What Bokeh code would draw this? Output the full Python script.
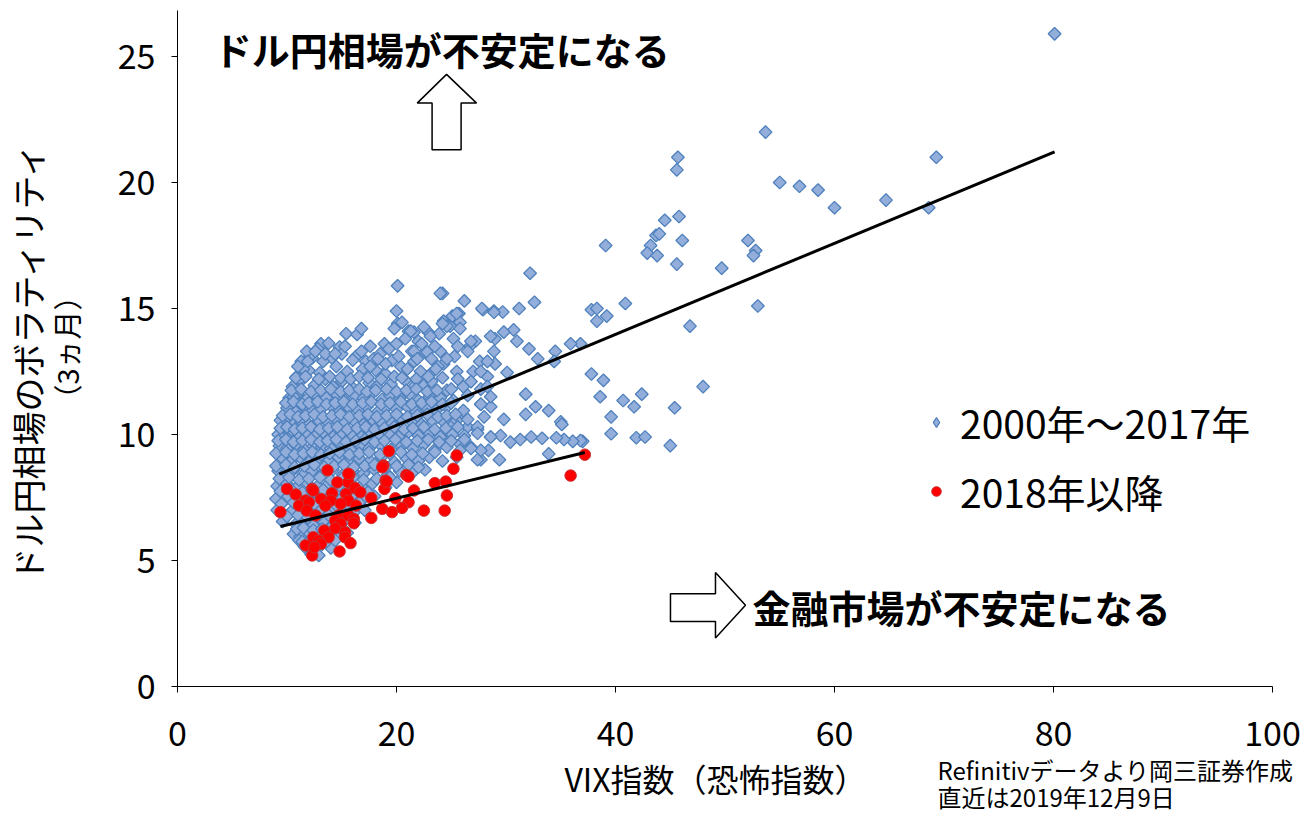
import numpy as np
from bokeh.plotting import figure
from bokeh.models import (Range1d, FixedTicker, Label, Legend, LegendItem, PolyAnnotation)
from bokeh.embed import file_html
from bokeh.resources import INLINE

FONT = "Noto Sans CJK JP"

# ---- data: 2000-2017 (VIX, USDJPY 3M implied vol) ----
blue_x = [80.1, 53.7, 45.7, 45.6, 69.3, 55.0, 56.8, 58.5, 60.0, 64.7, 68.6, 39.1, 44.5, 45.8,
          43.7, 44.0, 43.2, 42.9, 43.8, 46.1, 45.6, 52.1, 52.8, 52.6, 49.7, 40.9, 37.8, 38.3,
          39.2, 38.3, 53.0, 46.8, 36.8, 37.8, 38.9, 38.6, 40.7, 42.4, 41.7, 48.0, 45.4, 39.6,
          39.6, 41.9, 42.7, 45.0, 37.0,
          32.2, 26.2, 32.6, 24.2, 27.9, 28.9, 29.7, 31.2, 25.7, 34.5, 32.9, 32.1, 31.8, 32.7,
          33.9, 35.0, 35.1, 36.8, 36.1, 35.3, 34.6, 33.9, 33.3, 32.3, 31.3, 30.4, 29.4, 27.7,
          28.4, 29.8, 28.6, 27.7, 31.8, 27.6, 29.0, 30.1, 31.0, 30.7, 29.8, 29.0, 27.2, 26.7,
          25.8, 24.9, 24.3, 27.0, 26.1, 28.3, 27.7, 25.2, 25.8, 24.9, 26.5, 27.4, 24.6, 25.8,
          26.8, 28.6, 29.5, 35.9, 34.4,
          20.1, 24.0, 20.0, 20.1, 20.5, 21.1, 21.6, 22.0, 22.9, 23.9, 24.6, 25.1, 15.4, 16.4,
          16.8, 13.1, 13.8, 14.8, 16.3, 11.3, 12.3, 14.1, 17.2, 17.9, 19.6, 21.4, 22.6, 10.9,
          12.0,
          25.5, 27.8, 28.9, 21.3, 22.5, 24.2, 25.8, 23.1, 25.2, 26.8, 28.6, 21.6, 22.8, 24.0,
          26.5, 21.6, 24.3, 25.5, 27.7, 28.3, 28.9, 18.8, 20.4, 23.1, 26.8, 28.3, 24.6, 21.6,
          19.5, 27.7, 28.6, 26.1, 28.0, 25.5, 27.4, 28.6, 27.7, 25.8, 27.4,
          11.5, 13.0, 14.5, 15.5, 16.9, 18.1, 19.0, 21.0, 22.2, 23.8,
          10.5, 11.2, 12.5, 13.5, 14.2, 15.0, 16.0, 17.5, 18.2, 20.8, 22.5, 23.2,
          10.2, 11.0, 11.8, 12.7, 13.6, 14.5, 15.3, 16.2, 17.0, 17.8, 18.7, 19.4, 20.3, 21.2,
          22.0, 23.0, 24.0, 26.5,
          10.0, 10.8, 11.5, 12.3, 13.1, 14.0, 14.8, 15.7, 16.5, 17.3, 18.3, 19.0, 20.0, 21.0,
          21.8, 22.8, 23.6, 24.6,
          9.8, 10.5, 11.3, 12.0, 12.9, 13.7, 14.5, 15.2, 16.1, 17.0, 17.8, 18.6, 19.6, 20.5,
          21.4, 22.3, 23.3, 24.3, 26.5,
          9.5, 10.3, 11.0, 11.8, 12.6, 13.3, 14.2, 15.0, 15.9, 16.8, 17.6, 18.4, 19.3, 20.2,
          21.1, 22.0, 23.0, 24.0, 25.1, 26.2, 27.4,
          9.3, 10.0, 10.8, 11.6, 12.4, 13.2, 14.0, 14.9, 15.8, 16.7, 17.5, 18.5, 19.5, 20.5,
          21.5, 22.5, 23.5, 24.6, 26.8,
          9.6, 10.4, 11.2, 12.0, 12.9, 13.8, 14.7, 15.6, 16.6, 17.6, 18.6, 19.8, 20.9, 22.0,
          23.0, 24.2, 25.5,
          9.2, 9.8, 10.6, 11.5, 12.3, 13.2, 14.2, 15.1, 16.0, 17.0, 18.0, 19.2, 20.3, 21.5, 22.6,
          9.1, 10.0, 10.9, 11.8, 12.8, 13.8, 14.8, 15.8, 16.8, 17.8, 19.0, 20.0,
          9.0, 10.1, 11.0, 11.9, 12.9, 13.9, 14.9, 16.0, 17.0, 18.0,
          9.1, 10.4, 11.3, 12.2, 13.1, 14.1, 15.1, 16.1, 17.1,
          9.6, 10.8, 11.6, 12.4, 13.3, 14.3, 15.3, 16.2,
          10.6, 11.2, 12.0, 12.8, 13.6, 14.5, 15.5,
          11.1, 11.6, 12.3, 13.1, 14.0,
          12.2, 12.9,
          9.9, 9.4, 12.1, 11.2, 10.6, 10.1, 9.2, 11.8, 12.8, 13.3, 15.0, 16.0, 18.5, 19.0,
          20.2, 23.2, 23.6, 25.3, 17.6, 18.9,
          10.8, 11.7, 12.9, 13.9, 14.9, 15.8, 16.6, 17.4, 18.6, 19.8, 20.5, 21.8, 22.9, 24.2, 25.6,
          10.4, 11.3, 12.2, 13.1, 14.0, 14.9, 15.7, 16.6, 17.3, 18.1, 19.1, 20.0, 20.9, 21.8,
          22.8, 23.7, 25.0,
          9.9, 10.6, 11.4, 12.0, 12.8, 13.6, 14.4, 15.2, 16.0, 16.9, 17.7, 18.6, 19.4, 20.4,
          21.4, 22.3, 23.2, 24.2, 25.0,
          9.6, 10.3, 11.0, 11.7, 12.5, 13.3, 14.1, 14.9, 15.7, 16.6, 17.4, 18.2, 19.1, 20.0,
          21.0, 21.9, 22.8, 23.8, 24.6, 25.4,
          9.4, 10.0, 10.7, 11.4, 12.2, 13.0, 13.8, 14.6, 15.5, 16.4, 17.2, 18.0, 18.9, 19.8,
          20.7, 21.5, 22.5, 23.5, 24.5, 25.6,
          9.2, 9.9, 10.6, 11.4, 12.2, 13.0, 13.7, 14.5, 15.4, 16.3, 17.1, 18.0, 18.9, 19.9,
          20.9, 21.9, 22.9, 23.9, 25.0, 26.2,
          9.0, 9.9, 10.7, 11.5, 12.3, 13.1, 13.9, 14.8, 15.7, 16.6, 17.5, 18.5, 19.4, 20.4,
          21.4, 22.4, 23.5,
          9.0, 9.9, 10.7, 11.6, 12.5, 13.4, 14.3, 15.2, 16.1, 17.1, 18.0, 19.0, 20.0, 21.1, 22.0,
          9.3, 10.2, 11.1, 12.0, 13.0, 14.0, 15.0, 16.0, 17.0, 18.2, 19.4,
          9.4, 10.4, 11.4, 12.3, 13.3, 14.3, 15.4, 16.4, 17.4,
          9.5, 10.6, 11.5, 12.5, 13.5, 14.5, 15.5, 16.6,
          10.0, 11.0, 11.9, 12.8, 13.8, 14.8, 15.8,
          10.9, 11.5, 12.4, 13.2, 14.0, 15.0,
          11.4, 12.1, 12.9, 13.6, 14.4,
          11.0, 11.9, 12.6, 13.5, 14.4, 15.3, 16.8, 17.6, 18.3, 19.3, 20.0, 20.8, 21.9, 22.3,
          23.5, 24.6, 25.6, 19.8]
blue_y = [25.9, 22.0, 21.0, 20.5, 21.0, 20.0, 19.85, 19.7, 19.0, 19.3, 19.0, 17.5, 18.5, 18.65,
          17.9, 17.96, 17.5, 17.2, 17.1, 17.7, 16.76, 17.7, 17.3, 17.1, 16.6, 15.2, 14.95, 15.0,
          14.7, 14.5, 15.1, 14.3, 13.6, 12.4, 12.15, 11.5, 11.35, 11.6, 11.1, 11.9, 11.06, 10.7,
          10.03, 9.87, 9.9, 9.56, 9.73,
          16.4, 15.3, 15.25, 15.6, 14.95, 14.9, 14.86, 15.0, 14.8, 13.3, 13.0, 13.4, 11.6, 11.1,
          10.95, 10.5, 10.4, 9.76, 9.73, 9.8, 9.87, 9.23, 9.85, 9.9, 9.8, 9.7, 9.0, 9.0,
          9.37, 10.6, 11.1, 11.2, 10.8, 12.9, 12.8, 12.46, 13.7, 14.15, 14.06, 13.8, 13.7, 13.5,
          14.45, 14.3, 14.5, 12.5, 11.9, 12.3, 11.8, 11.35, 10.8, 10.4, 10.3, 10.2, 9.76, 9.63,
          9.5, 9.9, 9.96, 13.6, 12.9,
          15.9, 15.6, 14.9, 14.4, 14.45, 14.1, 14.06, 13.7, 14.06, 14.0, 14.3, 14.7, 14.0, 13.97,
          14.2, 13.6, 13.62, 13.47, 13.1, 12.9, 13.04, 13.04, 12.9, 13.0, 12.94, 13.3, 13.27, 12.3,
          12.54,
          14.8, 15.0, 14.85, 14.1, 14.26, 14.4, 14.2, 13.9, 13.8, 13.7, 13.9, 13.3, 13.27, 13.3,
          13.3, 12.9, 12.8, 12.5, 12.5, 12.9, 13.3, 12.4, 12.7, 12.4, 12.1, 11.9, 11.75, 11.9,
          12.0, 11.2, 11.5, 10.95, 10.7, 10.56, 10.3, 9.9, 9.37, 9.37, 9.0,
          12.6, 12.45, 12.7, 12.5, 12.6, 12.55, 12.4, 12.6, 12.5, 12.7,
          11.9, 12.1, 11.95, 12.2, 11.9, 12.1, 11.85, 12.05, 11.9, 12.15, 11.95, 12.1,
          11.45, 11.6, 11.4, 11.55, 11.45, 11.6, 11.35, 11.55, 11.45, 11.65, 11.4, 11.55, 11.45, 11.6,
          11.35, 11.5, 11.45, 11.55,
          11.05, 10.9, 11.1, 10.95, 11.0, 11.15, 10.9, 11.05, 10.95, 11.1, 10.9, 11.05, 11.0, 11.1,
          10.9, 11.05, 10.95, 11.1,
          10.45, 10.6, 10.5, 10.4, 10.55, 10.5, 10.6, 10.45, 10.55, 10.4, 10.6, 10.5, 10.45, 10.6,
          10.5, 10.4, 10.55, 10.5, 10.6,
          9.95, 10.1, 9.9, 10.05, 9.95, 10.1, 9.9, 10.05, 10.0, 9.9, 10.1, 9.95, 10.05, 9.9,
          10.1, 9.95, 10.05, 9.9, 10.0, 9.95, 10.05,
          9.55, 9.45, 9.6, 9.4, 9.55, 9.5, 9.45, 9.6, 9.4, 9.55, 9.45, 9.6, 9.4, 9.55,
          9.45, 9.6, 9.4, 9.5, 9.45,
          9.05, 8.95, 9.1, 8.9, 9.05, 8.95, 9.1, 8.9, 9.05, 8.95, 9.1, 8.9, 9.05, 8.95,
          9.1, 8.95, 9.1,
          8.55, 8.45, 8.6, 8.4, 8.55, 8.45, 8.6, 8.4, 8.55, 8.45, 8.6, 8.4, 8.55, 8.5, 8.6,
          7.95, 8.05, 7.9, 8.1, 7.95, 8.05, 7.9, 8.1, 7.95, 8.05, 7.9, 8.1,
          7.45, 7.55, 7.4, 7.6, 7.45, 7.55, 7.4, 7.6, 7.45, 7.55,
          7.0, 6.95, 7.1, 6.9, 7.05, 6.95, 7.1, 6.9, 7.0,
          6.55, 6.45, 6.6, 6.4, 6.55, 6.45, 6.6, 6.5,
          6.05, 5.95, 6.1, 5.9, 6.05, 5.95, 6.1,
          5.8, 5.55, 5.45, 5.6, 5.5,
          5.25, 5.2,
          9.9, 10.56, 13.1, 12.2, 11.5, 10.7, 10.0, 13.3, 13.4, 12.9, 13.2, 12.95, 13.2, 12.8,
          13.1, 13.0, 12.6, 13.1, 13.5, 13.6,
          12.25, 12.3, 12.2, 12.3, 12.25, 12.2, 12.3, 12.25, 12.2, 12.3, 12.25, 12.2, 12.3, 12.25, 12.2,
          11.75, 11.8, 11.7, 11.75, 11.8, 11.7, 11.75, 11.8, 11.7, 11.75, 11.8, 11.7, 11.75, 11.8,
          11.7, 11.75, 11.8,
          11.25, 11.3, 11.2, 11.25, 11.3, 11.2, 11.25, 11.3, 11.2, 11.25, 11.3, 11.2, 11.25, 11.3,
          11.2, 11.25, 11.3, 11.2, 11.25,
          10.75, 10.8, 10.7, 10.75, 10.8, 10.7, 10.75, 10.8, 10.7, 10.75, 10.8, 10.7, 10.75, 10.8,
          10.7, 10.75, 10.8, 10.7, 10.75, 10.8,
          10.25, 10.3, 10.2, 10.25, 10.3, 10.2, 10.25, 10.3, 10.2, 10.25, 10.3, 10.2, 10.25, 10.3,
          10.2, 10.25, 10.3, 10.2, 10.25, 10.3,
          9.75, 9.8, 9.7, 9.75, 9.8, 9.7, 9.75, 9.8, 9.7, 9.75, 9.8, 9.7, 9.75, 9.8,
          9.7, 9.75, 9.8, 9.7, 9.75, 9.8,
          9.25, 9.3, 9.2, 9.25, 9.3, 9.2, 9.25, 9.3, 9.2, 9.25, 9.3, 9.2, 9.25, 9.3,
          9.2, 9.25, 9.3,
          8.75, 8.8, 8.7, 8.75, 8.8, 8.7, 8.75, 8.8, 8.7, 8.75, 8.8, 8.7, 8.75, 8.8, 8.7,
          8.25, 8.3, 8.2, 8.25, 8.3, 8.2, 8.25, 8.3, 8.2, 8.25, 8.3,
          7.75, 7.8, 7.7, 7.75, 7.8, 7.7, 7.75, 7.8, 7.7,
          7.25, 7.3, 7.2, 7.25, 7.3, 7.2, 7.25, 7.3,
          6.75, 6.8, 6.7, 6.75, 6.8, 6.7, 6.75,
          6.25, 6.3, 6.2, 6.25, 6.3, 6.2,
          5.75, 5.8, 5.7, 5.75, 5.8,
          12.7, 12.9, 13.3, 13.2, 13.2, 13.5, 13.3, 12.7, 13.0, 13.4, 13.6, 13.8, 13.0, 13.6,
          13.5, 13.0, 13.5, 14.2]

# ---- data: 2018 onwards ----
red_x = [19.3, 13.7, 15.7, 18.8, 18.7, 20.9, 21.1, 19.0, 14.6, 15.6, 10.0, 12.3, 12.4, 18.9,
         16.2, 16.7, 10.8, 14.1, 15.4, 17.7, 21.6, 23.5, 24.5, 24.6, 11.7, 13.1, 14.0, 15.6,
         11.1, 12.0, 13.5, 14.9, 16.3, 19.9, 21.1, 9.4, 11.8, 18.7, 19.6, 20.5, 22.5, 24.4,
         17.7, 14.7, 15.6, 12.6, 16.1, 14.4, 14.9, 16.1, 14.4, 13.4, 15.3, 13.8, 12.4, 12.9,
         13.1, 15.3, 15.8, 11.7, 12.3, 14.8, 12.5, 25.5, 25.2, 35.9, 37.2, 19.1, 15.6]
red_y = [9.34, 8.58, 8.41, 8.77, 8.7, 8.39, 8.33, 8.17, 8.1, 8.1, 7.84, 7.84, 7.78, 7.84,
         7.88, 7.71, 7.62, 7.67, 7.64, 7.48, 7.78, 8.07, 8.13, 7.58, 7.38, 7.44, 7.38, 7.38,
         7.18, 7.31, 7.18, 7.25, 7.18, 7.47, 7.31, 6.92, 6.98, 7.05, 6.92, 7.09, 6.98, 6.98,
         6.69, 6.79, 6.79, 6.79, 6.65, 6.59, 6.46, 6.48, 6.28, 6.19, 6.12, 5.92, 5.92, 5.79,
         5.66, 5.92, 5.69, 5.6, 5.2, 5.36, 5.53, 9.17, 8.64, 8.37, 9.2, 8.13, 8.44]

# linear trend lines (intercept, slope, x-span) as drawn in the chart
trend_blue = [6.75, 0.1806, 9.3, 80.1]
trend_red = [5.36, 0.1055, 9.4, 37.2]

x_ticks = [0, 20, 40, 60, 80, 100]
y_ticks = [0, 5, 10, 15, 20, 25]
x_axis_span = (0, 100)
y_axis_span = (0, 26.83)

series_names = ["2000年～2017年", "2018年以降"]
BLUE_FILL, BLUE_LINE = "#93AEDA", "#4F81BD"
RED_FILL, RED_LINE = "#FF0000", "#C83030"

# canvas geometry (pixels): plot origin and scale
W, H = 1306, 815
ORIGIN_X, ORIGIN_Y = 177, 686
PX_PER_X, PX_PER_Y = 10.95, 25.2

x_range = Range1d(-ORIGIN_X / PX_PER_X, (W - ORIGIN_X) / PX_PER_X)
y_range = Range1d(-(H - ORIGIN_Y) / PX_PER_Y, ORIGIN_Y / PX_PER_Y)

p = figure(frame_width=W, frame_height=H, output_backend="svg", toolbar_location=None,
           x_range=x_range, y_range=y_range, min_border=0)
p.title.visible = False
p.grid.visible = False
p.outline_line_color = None
p.background_fill_color = "white"


def px_x(px):
    return (px - ORIGIN_X) / PX_PER_X


def px_y(py):
    return (ORIGIN_Y - py) / PX_PER_Y


rb = p.scatter(blue_x, blue_y, marker="square", angle=np.pi / 4, size=9,
               fill_color=BLUE_FILL, line_color=BLUE_LINE, line_width=1.3)
rr = p.scatter(red_x, red_y, marker="circle", size=11.5,
               fill_color=RED_FILL, line_color=RED_LINE, line_width=1)
# legend-only swatch for the diamond series (no visible point)
rb_leg = p.scatter(x=np.array([np.nan]), y=np.array([np.nan]), marker="diamond", size=12,
                   fill_color=BLUE_FILL, line_color=BLUE_LINE, line_width=1.3)

for a, b, x0, x1 in (trend_blue, trend_red):
    xs = np.array([x0, x1])
    p.line(xs, a + b * xs, line_color="black", line_width=3)

# axes drawn at the data origin
xa = p.xaxis[0]
ya = p.yaxis[0]
xa.fixed_location = 0
ya.fixed_location = 0
xa.bounds = x_axis_span
ya.bounds = y_axis_span
for ax, ticks in ((xa, x_ticks), (ya, y_ticks)):
    ax.ticker = FixedTicker(ticks=ticks)
    ax.axis_line_color = "black"
    ax.axis_line_width = 1
    ax.major_tick_line_color = "black"
    ax.major_tick_out = 6
    ax.major_tick_in = 0
    ax.minor_tick_line_color = None
    ax.major_label_text_font = FONT
    ax.major_label_text_font_size = "34px"
    ax.major_label_text_color = "black"
xa.major_label_standoff = 28
ya.major_label_standoff = 16

# axis titles
p.add_layout(Label(x=px_x(27), y=px_y(360), angle=np.pi / 2, text="ドル円相場のボラティリティ",
                   text_font=FONT, text_font_size="34px", text_color="black",
                   text_baseline="middle", text_align="center"))
p.add_layout(Label(x=px_x(65), y=px_y(347), angle=np.pi / 2, text="（3ヵ月）",
                   text_font=FONT, text_font_size="29px", text_color="black",
                   text_baseline="middle", text_align="center"))
p.add_layout(Label(x=px_x(715), y=px_y(777), text="VIX指数（恐怖指数）", text_font=FONT,
                   text_font_size="32px", text_color="black",
                   text_baseline="middle", text_align="center"))

# legend
legend = Legend(items=[LegendItem(label=series_names[0], renderers=[rb_leg]),
                       LegendItem(label=series_names[1], renderers=[rr])],
                location=(924, 296), label_text_font=FONT, label_text_font_size="39px",
                label_text_color="black", glyph_width=24, glyph_height=26, label_height=40,
                label_standoff=12, spacing=13, padding=0, margin=0,
                border_line_color=None, background_fill_alpha=0)
p.add_layout(legend)

# annotation arrows
up_arrow = PolyAnnotation(xs=[24.57, 27.31, 25.90, 25.90, 23.25, 23.25, 21.89],
                          ys=[24.29, 23.15, 23.15, 21.3, 21.3, 23.15, 23.15],
                          fill_color="white", fill_alpha=1, line_color="black",
                          line_alpha=1, line_width=1.5)
right_arrow = PolyAnnotation(xs=[45.02, 49.13, 49.13, 51.87, 49.13, 49.13, 45.02],
                             ys=[3.68, 3.68, 4.52, 3.22, 1.92, 2.58, 2.58],
                             fill_color="white", fill_alpha=1, line_color="black",
                             line_alpha=1, line_width=1.5)
p.add_layout(up_arrow)
p.add_layout(right_arrow)

p.add_layout(Label(x=3.3, y=25.3, text="ドル円相場が不安定になる", text_font=FONT,
                   text_font_size="38px", text_font_style="bold", text_color="black",
                   text_baseline="middle", text_align="left"))
p.add_layout(Label(x=52.5, y=3.17, text="金融市場が不安定になる", text_font=FONT,
                   text_font_size="38px", text_font_style="bold", text_color="black",
                   text_baseline="middle", text_align="left"))

# source note
p.add_layout(Label(x=px_x(937), y=px_y(769), text="Refinitivデータより岡三証券作成",
                   text_font=FONT, text_font_size="24px", text_color="black",
                   text_baseline="middle", text_align="left"))
p.add_layout(Label(x=px_x(937), y=px_y(796), text="直近は2019年12月9日",
                   text_font=FONT, text_font_size="24px", text_color="black",
                   text_baseline="middle", text_align="left"))

open("out.html", "w").write(file_html(p, INLINE))
